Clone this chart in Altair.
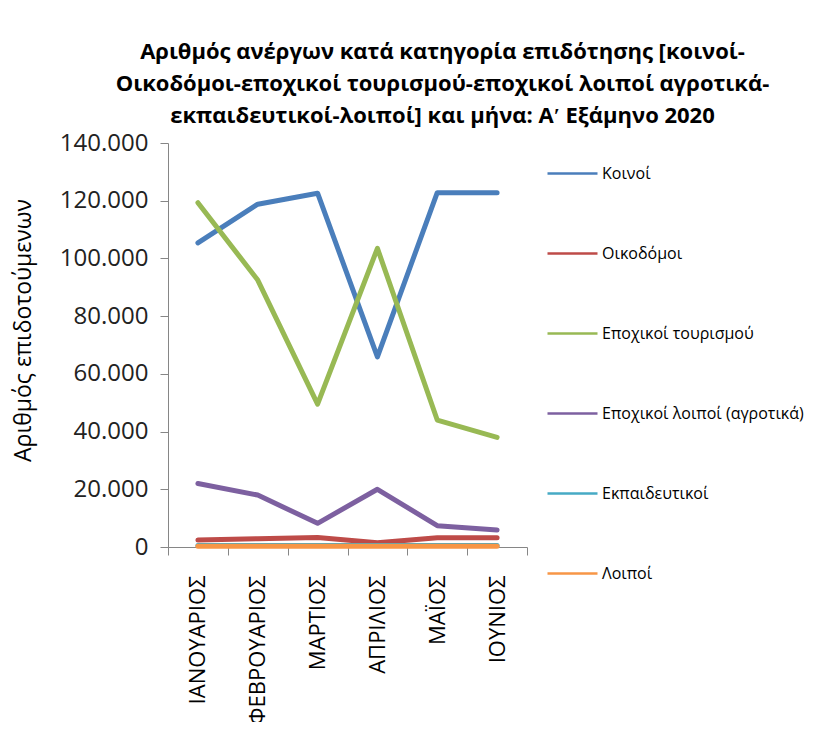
import altair as alt
import pandas as pd

months = ["ΙΑΝΟΥΑΡΙΟΣ", "ΦΕΒΡΟΥΑΡΙΟΣ", "ΜΑΡΤΙΟΣ", "ΑΠΡΙΛΙΟΣ", "ΜΑΪΟΣ", "ΙΟΥΝΙΟΣ"]
series = ["Κοινοί", "Οικοδόμοι", "Εποχικοί τουρισμού", "Εποχικοί λοιποί (αγροτικά)", "Εκπαιδευτικοί", "Λοιποί"]
koinoi = [105400, 118800, 122600, 65900, 122800, 122800]
oikodomoi = [2400, 2900, 3300, 1500, 3200, 3200]
tourismou = [119300, 92500, 49500, 103500, 44000, 38000]
agrotika = [22000, 18000, 8200, 20000, 7400, 5900]
ekpaideutikoi = [500, 500, 500, 500, 500, 500]
loipoi = [300, 300, 300, 300, 300, 300]
colors = ["#4A7EBB", "#BE4B48", "#98B954", "#7D60A0", "#46AAC5", "#F79646"]

values = [koinoi, oikodomoi, tourismou, agrotika, ekpaideutikoi, loipoi]
rows = []
for s, vals in zip(series, values):
    for i, (m, v) in enumerate(zip(months, vals)):
        rows.append({"Μήνας": m, "idx": i, "Κατηγορία": s, "Αριθμός": v})
df = pd.DataFrame(rows)

FONT = "Open Sans"

chart = alt.Chart(df).mark_line(strokeWidth=5, strokeCap="round", strokeJoin="round").encode(
    x=alt.X("Μήνας:N", sort=months,
            scale=alt.Scale(type="band", paddingInner=0, paddingOuter=0),
            axis=alt.Axis(title=None, labelAngle=-90, labelFontSize=22, labelFont=FONT,
                          labelColor="#000000", tickBand="extent", tickSize=8,
                          domainColor="#868686", tickColor="#868686", labelPadding=20,
                          labelOverlap=False, labelLimit=300)),
    y=alt.Y("Αριθμός:Q", scale=alt.Scale(domain=[0, 140000]),
            axis=alt.Axis(title="Αριθμός επιδοτούμενων", values=[0, 20000, 40000, 60000, 80000, 100000, 120000, 140000],
                          labelExpr="replace(format(datum.value, ','), ',', '.')",
                          labelFontSize=24, labelFont=FONT, labelColor="#222222",
                          titleFont=FONT, titleFontSize=23, titleFontWeight="normal", titleColor="#000000",
                          titlePadding=24, titleY=187, grid=False, tickSize=8, labelPadding=12,
                          domainColor="#868686", tickColor="#868686")),
    color=alt.Color("Κατηγορία:N", sort=series,
                    scale=alt.Scale(domain=series, range=colors),
                    legend=alt.Legend(title=None, orient="none", legendX=378, legendY=4,
                                      symbolType="stroke", symbolSize=2500, symbolStrokeWidth=2.5,
                                      rowPadding=45, labelFont=FONT, labelFontSize=16,
                                      labelColor="#000000", labelOffset=3, labelLimit=300)),
    order=alt.Order("idx:Q"),
).properties(
    width=359, height=404,
    padding={"left": 160, "top": 135, "right": 280, "bottom": 175},
    autosize=alt.AutoSizeParams(type="none"),
    title=alt.TitleParams(
        ["Αριθμός ανέργων κατά κατηγορία επιδότησης [κοινοί-",
         "Οικοδόμοι-εποχικοί τουρισμού-εποχικοί λοιποί αγροτικά-",
         "εκπαιδευτικοί-λοιποί] και μήνα: Αʹ Εξάμηνο 2020"],
        font=FONT, fontSize=22, fontWeight="bold", color="#000000",
        anchor="middle", dx=95, offset=3, lineHeight=32),
).configure_view(stroke=None)

chart.save("out.html", embed_options={"renderer": "svg", "actions": False})
